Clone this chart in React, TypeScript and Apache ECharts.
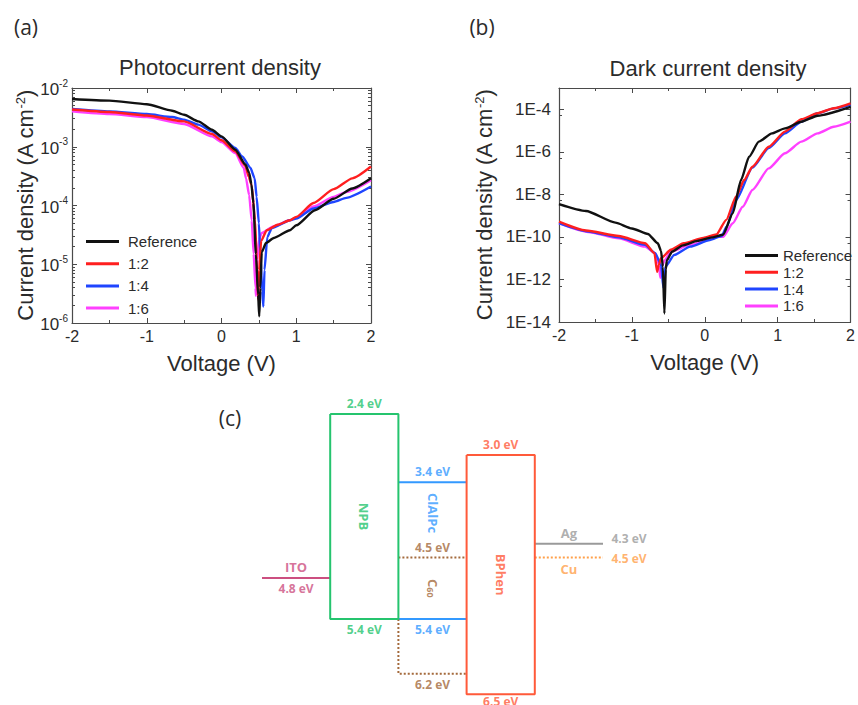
import React, { useEffect, useRef } from 'react';
import * as echarts from 'echarts';

// ---------- data ----------
const SERIES_NAMES = ['Reference', '1:2', '1:4', '1:6'];
const SERIES_COLORS = ['#111111', '#ff1f1f', '#1f45ff', '#ff40ff'];

// (a) photocurrent density, [V, A cm^-2]
const photoReference: [number, number][] = [
  [-2, 6.5e-3], [-1.5, 6.1e-3], [-1, 5.3e-3], [-0.66, 4.1e-3], [-0.5, 3.5e-3], [-0.31, 2.7e-3],
  [-0.127, 1.95e-3], [0, 1.5e-3], [0.185, 8.9e-4], [0.32, 5.0e-4], [0.37, 3.6e-4], [0.4, 2.3e-4],
  [0.426, 1.1e-4], [0.46, 1.5e-5], [0.49, 3e-6], [0.505, 1.3e-6], [0.52, 4e-6], [0.538, 1.6e-5],
  [0.595, 2.3e-5], [0.7, 2.8e-5], [0.916, 3.8e-5], [1.0, 4.6e-5], [1.25, 8.3e-5], [1.5, 1.3e-4],
  [1.75, 1.95e-4], [2, 2.9e-4],
];
const photo12: [number, number][] = [
  [-2, 4.3e-3], [-1.5, 3.9e-3], [-1, 3.4e-3], [-0.5, 2.7e-3], [-0.127, 1.65e-3], [0, 1.29e-3],
  [0.185, 8.3e-4], [0.32, 4.7e-4], [0.363, 3.1e-4], [0.404, 2.2e-4], [0.449, 5.6e-5], [0.47, 1.2e-5],
  [0.49, 2.5e-6], [0.505, 8e-6], [0.53, 2.5e-5], [0.605, 3.8e-5], [0.75, 4.7e-5], [0.916, 5.6e-5],
  [1.0, 6.4e-5], [1.23, 1.1e-4], [1.5, 1.9e-4], [1.75, 2.9e-4], [2, 4.6e-4],
];
const photo14: [number, number][] = [
  [-2, 4.4e-3], [-1.5, 4.0e-3], [-1, 3.6e-3], [-0.66, 3.2e-3], [-0.5, 2.9e-3], [-0.31, 2.38e-3],
  [-0.127, 1.83e-3], [0, 1.45e-3], [0.185, 9.5e-4], [0.274, 6.9e-4], [0.386, 4.4e-4], [0.444, 2.9e-4],
  [0.47, 1.4e-4], [0.5, 5e-5], [0.52, 1.5e-5], [0.545, 3.5e-6], [0.56, 1.9e-6], [0.575, 8e-6],
  [0.613, 2.9e-5], [0.671, 4.1e-5], [0.916, 5.6e-5], [1.0, 6.0e-5], [1.23, 8.9e-5], [1.5, 1.15e-4],
  [1.67, 1.35e-4], [2, 2.1e-4],
];
const photo16: [number, number][] = [
  [-2, 4.0e-3], [-1.5, 3.6e-3], [-1, 3.2e-3], [-0.5, 2.44e-3], [-0.127, 1.5e-3], [0, 1.2e-3],
  [0.185, 7.8e-4], [0.297, 4.4e-4], [0.328, 2.9e-4], [0.37, 1.5e-4], [0.404, 5.6e-5], [0.43, 1.5e-5],
  [0.455, 4e-6], [0.462, 2.9e-6], [0.48, 1.2e-5], [0.5, 2.6e-5], [0.538, 3.4e-5], [0.693, 4.4e-5],
  [0.916, 5.6e-5], [1.0, 6.2e-5], [1.23, 9.6e-5], [1.5, 1.4e-4], [1.67, 1.7e-4], [2, 2.7e-4],
];

// (b) dark current density, [V, A cm^-2]
const darkReference: [number, number][] = [
  [-2, 3.5e-9], [-1.63, 1.66e-9], [-1.226, 4.7e-10], [-1.0, 2.5e-10], [-0.78, 1.38e-10], [-0.644, 5e-11],
  [-0.6, 2.2e-11], [-0.575, 4e-12], [-0.554, 2.5e-14], [-0.535, 3e-12], [-0.52, 8e-12], [-0.45, 2.0e-11],
  [-0.3, 4.0e-11], [-0.1, 6.5e-11], [0.1, 9.5e-11], [0.25, 1.26e-10], [0.385, 1.3e-9], [0.497, 4.7e-8],
  [0.608, 5.9e-7], [0.742, 3.0e-6], [0.922, 7.4e-6], [1.1, 1.26e-5], [1.325, 2.6e-5], [1.548, 5.0e-5],
  [2, 1.3e-4],
];
const dark12: [number, number][] = [
  [-2, 5.2e-10], [-1.63, 2.0e-10], [-1.18, 1.1e-10], [-0.82, 5.0e-11], [-0.69, 1.7e-11], [-0.654, 2.3e-12],
  [-0.63, 5e-12], [-0.6, 1.0e-11], [-0.466, 2.5e-11], [-0.29, 5.0e-11], [-0.02, 8.9e-11], [0.16, 1.3e-10],
  [0.295, 6.3e-10], [0.43, 7.9e-9], [0.54, 4.7e-8], [0.654, 2.0e-7], [0.877, 1.74e-6], [1.1, 8.9e-6],
  [1.325, 3.4e-5], [1.548, 6.5e-5], [1.77, 1.12e-4], [2, 1.9e-4],
];
const dark14: [number, number][] = [
  [-2, 4.4e-10], [-1.6, 1.8e-10], [-1.18, 9.5e-11], [-0.82, 4.2e-11], [-0.68, 1.7e-11], [-0.6, 5e-12],
  [-0.568, 4e-13], [-0.54, 4e-12], [-0.42, 1.4e-11], [-0.2, 3.5e-11], [0.07, 7.2e-11], [0.23, 1.1e-10],
  [0.3, 3e-10], [0.43, 5.4e-9], [0.654, 1.8e-7], [0.877, 1.5e-6], [1.1, 7.4e-6], [1.325, 2.6e-5],
  [1.548, 6.5e-5], [1.77, 1.1e-4], [2, 1.6e-4],
];
const dark16: [number, number][] = [
  [-2, 4.4e-10], [-1.6, 1.7e-10], [-1.18, 8.5e-11], [-0.82, 3.5e-11], [-0.68, 1.7e-11], [-0.63, 5e-12],
  [-0.61, 1.2e-12], [-0.59, 4e-12], [-0.55, 8e-12], [-0.47, 2.0e-11], [-0.2, 4.2e-11], [0.16, 1.0e-10],
  [0.25, 1.0e-10], [0.385, 4.4e-10], [0.52, 2.6e-9], [0.654, 1.6e-8], [0.877, 1.66e-7], [1.1, 8.5e-7],
  [1.325, 3.0e-6], [1.548, 7.4e-6], [1.77, 1.5e-5], [2, 2.6e-5],
];

const PHOTO = [photoReference, photo12, photo14, photo16];
const DARK = [darkReference, dark12, dark14, dark16];

// (c) energy levels, eV  [LUMO, HOMO]
const NPB_LEVELS = [2.4, 5.4];
const CLALPC_LEVELS = [3.4, 5.4];
const C60_LEVELS = [4.5, 6.2];
const BPHEN_LEVELS = [3.0, 6.5];
const ITO_LEVEL = [4.8];
const AG_LEVEL = [4.3];
const CU_LEVEL = [4.5];

// ---------- styles ----------
const FONT = "'Liberation Sans', Arial, sans-serif";
const LABEL_FONT = "'Open Sans', 'Noto Sans', sans-serif";
const AXIS_COLOR = '#4a4a4a';
const TEXT_COLOR = '#2b2b2b';
const C_GREEN = '#25c46e';
const C_BLUE = '#3399ff';
const C_BROWN = '#a46a3c';
const C_RED = '#ff5a3a';
const C_PINK = '#cc4f80';
const C_GRAY = '#9a9a9a';
const C_ORANGE = '#ffa04a';

const eV = (v: number) => `${v.toFixed(1)} eV`;

function xAxisFor(grid: number, position: 'bottom' | 'top', withLabels: boolean) {
  return {
    type: 'value', gridIndex: grid, position, min: -2, max: 2, interval: 1,
    axisLine: { show: true, onZero: false, lineStyle: { color: AXIS_COLOR, width: 1.2 } },
    axisTick: { show: true, inside: true, length: 5, lineStyle: { color: AXIS_COLOR } },
    minorTick: { show: true, splitNumber: 2, length: 3, lineStyle: { color: AXIS_COLOR } },
    axisLabel: { show: withLabels, fontSize: 16, color: TEXT_COLOR, fontFamily: FONT, margin: 5 },
    splitLine: { show: false },
    name: withLabels ? 'Voltage (V)' : '',
    nameLocation: 'middle', nameGap: 29,
    nameTextStyle: { fontSize: 22, color: TEXT_COLOR, fontFamily: FONT },
  };
}

const yNameRich = {
  sup: { fontSize: 13, fontFamily: FONT, color: TEXT_COLOR, verticalAlign: 'top', lineHeight: 13 },
};

function yAxisFor(grid: number, position: 'left' | 'right', withLabels: boolean, panel: 'a' | 'b') {
  const base: any = {
    type: 'log', gridIndex: grid, position,
    axisLine: { show: true, onZero: false, lineStyle: { color: AXIS_COLOR, width: 1.2 } },
    axisTick: { show: true, inside: true, length: 5, lineStyle: { color: AXIS_COLOR } },
    minorTick: { show: true, splitNumber: panel === 'a' ? 9 : 2, length: 3, lineStyle: { color: AXIS_COLOR } },
    splitLine: { show: false },
  };
  if (panel === 'a') {
    base.logBase = 10; base.min = 1e-6; base.max = 1e-2;
    base.axisLabel = {
      show: withLabels, fontSize: 16, color: TEXT_COLOR, fontFamily: FONT, margin: 4,
      formatter: (v: number) => `{b|10}{s|${Math.round(Math.log10(v))}}`,
      rich: {
        b: { fontSize: 17, fontFamily: FONT, color: TEXT_COLOR, verticalAlign: 'bottom', lineHeight: 20 },
        s: { fontSize: 10, fontFamily: FONT, color: TEXT_COLOR, verticalAlign: 'top', lineHeight: 10 },
      },
    };
  } else {
    base.logBase = 100; base.min = 1e-14; base.max = 1e-3;
    base.axisLabel = {
      show: withLabels, fontSize: 17, color: TEXT_COLOR, fontFamily: FONT, margin: 8, showMaxLabel: false,
      formatter: (v: number) => `1E${Math.round(Math.log10(v))}`,
    };
  }
  if (withLabels) {
    base.name = 'Current density (A cm{sup|-2})';
    base.nameLocation = 'middle';
    base.nameGap = panel === 'a' ? 35 : 64;
    base.nameTextStyle = { fontSize: 22, color: TEXT_COLOR, fontFamily: FONT, rich: yNameRich };
  }
  return base;
}

function box(x0: number, x1: number, levels: number[]) {
  return [[x0, levels[0]], [x1, levels[0]], [x1, levels[1]], [x0, levels[1]], [x0, levels[0]]];
}

function levelLine(data: number[][], color: string, dotted = false, width = 2) {
  return {
    type: 'line', xAxisIndex: 4, yAxisIndex: 4, data, symbol: 'none', silent: true, clip: false,
    lineStyle: { color, width, type: dotted ? [2, 2] : 'solid' },
  };
}

function lbl(x: number, e: number, text: string, color: string, position: string, extra: any = {}) {
  return {
    value: [x, e],
    label: {
      show: true, formatter: text, color, position, distance: 4,
      fontFamily: LABEL_FONT, fontWeight: 'bold', fontSize: 12, ...extra,
    },
  };
}

function buildOption(): any {
  const lineSeries = (datasets: [number, number][][], xi: number, yi: number) =>
    datasets.map((d, i) => ({
      type: 'line', name: SERIES_NAMES[i], xAxisIndex: xi, yAxisIndex: yi, data: d,
      symbol: 'none', smooth: 0.2, smoothMonotone: 'x', silent: true,
      lineStyle: { width: 2.4, color: SERIES_COLORS[i] }, itemStyle: { color: SERIES_COLORS[i] },
      z: 10 - i,
    }));

  const legendCommon = {
    orient: 'vertical', icon: 'rect', itemWidth: 33, itemHeight: 3, data: SERIES_NAMES, selectedMode: false,
    padding: 0,
    textStyle: { fontSize: 15, lineHeight: 14, color: TEXT_COLOR, fontFamily: FONT },
  };

  const rotated = { rotate: -90, fontSize: 13 };
  const labels = [
    lbl(1.5, NPB_LEVELS[0], eV(NPB_LEVELS[0]), C_GREEN, 'top'),
    lbl(1.5, NPB_LEVELS[1], eV(NPB_LEVELS[1]), C_GREEN, 'bottom'),
    lbl(1.5, (NPB_LEVELS[0] + NPB_LEVELS[1]) / 2, 'NPB', C_GREEN, 'inside', rotated),
    lbl(2.5, CLALPC_LEVELS[0], eV(CLALPC_LEVELS[0]), C_BLUE, 'top'),
    lbl(2.5, CLALPC_LEVELS[1], eV(CLALPC_LEVELS[1]), C_BLUE, 'bottom'),
    lbl(2.5, (CLALPC_LEVELS[0] + C60_LEVELS[0]) / 2 - 0.1, 'ClAlPc', C_BLUE, 'inside', rotated),
    lbl(2.5, C60_LEVELS[0], eV(C60_LEVELS[0]), C_BROWN, 'top'),
    lbl(2.5, C60_LEVELS[1], eV(C60_LEVELS[1]), C_BROWN, 'bottom'),
    lbl(2.5, (C60_LEVELS[0] + CLALPC_LEVELS[1]) / 2, 'C{sub|60}', C_BROWN, 'inside', {
      ...rotated,
      rich: { sub: { fontSize: 9, fontFamily: LABEL_FONT, fontWeight: 'bold', color: C_BROWN, verticalAlign: 'bottom' } },
    }),
    lbl(3.5, BPHEN_LEVELS[0], eV(BPHEN_LEVELS[0]), C_RED, 'top'),
    lbl(3.5, BPHEN_LEVELS[1], eV(BPHEN_LEVELS[1]), C_RED, 'bottom', { distance: 1 }),
    lbl(3.5, (BPHEN_LEVELS[0] + BPHEN_LEVELS[1]) / 2, 'BPhen', C_RED, 'inside', rotated),
    lbl(0.5, ITO_LEVEL[0], 'ITO', C_PINK, 'top', { fontSize: 13 }),
    lbl(0.5, ITO_LEVEL[0], eV(ITO_LEVEL[0]), C_PINK, 'bottom'),
    lbl(4.5, AG_LEVEL[0], 'Ag', C_GRAY, 'top', { fontSize: 13 }),
    lbl(5, AG_LEVEL[0], eV(AG_LEVEL[0]), C_GRAY, 'right', { distance: 8, offset: [0, -5] }),
    lbl(4.5, CU_LEVEL[0], 'Cu', C_ORANGE, 'bottom', { fontSize: 13 }),
    lbl(5, CU_LEVEL[0], eV(CU_LEVEL[0]), C_ORANGE, 'right', { distance: 8, offset: [0, 1] }),
  ];

  const textEl = (x: number, y: number, text: string, fontSize: number, family = FONT) => ({
    type: 'text', x, y, silent: true,
    style: { text, fontSize, fontFamily: family, fill: TEXT_COLOR, align: 'center', verticalAlign: 'middle' },
  });

  return {
    animation: false,
    backgroundColor: '#ffffff',
    grid: [
      { left: 72, top: 88, width: 299, height: 235 },
      { left: 559, top: 88, width: 298, height: 234 },
      { left: 262, top: 386.7, width: 341, height: 314.3 },
    ],
    xAxis: [
      xAxisFor(0, 'bottom', true),
      xAxisFor(0, 'top', false),
      xAxisFor(1, 'bottom', true),
      xAxisFor(1, 'top', false),
      { type: 'value', gridIndex: 2, min: 0, max: 5, show: false },
    ],
    yAxis: [
      yAxisFor(0, 'left', true, 'a'),
      yAxisFor(0, 'right', false, 'a'),
      yAxisFor(1, 'left', true, 'b'),
      yAxisFor(1, 'right', false, 'b'),
      { type: 'value', gridIndex: 2, min: 2.0, max: 6.6, inverse: true, show: false },
    ],
    legend: [
      { ...legendCommon, left: 86, top: 234, itemGap: 7.2, textStyle: { ...legendCommon.textStyle, padding: [0, 0, 0, 4] } },
      { ...legendCommon, left: 745, top: 248, itemGap: 1.8 },
    ],
    graphic: [
      textEl(26, 27, '(a)', 21, "'Open Sans', sans-serif"),
      textEl(482, 27, '(b)', 21, "'Open Sans', sans-serif"),
      textEl(230, 418, '(c)', 21, "'Open Sans', sans-serif"),
      textEl(220, 67, 'Photocurrent density', 22),
      textEl(708, 68, 'Dark current density', 22),
    ],
    series: [
      ...lineSeries(PHOTO, 0, 0),
      ...lineSeries(DARK, 2, 2),
      levelLine([[2, CLALPC_LEVELS[0]], [3, CLALPC_LEVELS[0]]], C_BLUE),
      levelLine([[2, CLALPC_LEVELS[1]], [3, CLALPC_LEVELS[1]]], C_BLUE),
      levelLine([[2, C60_LEVELS[0]], [3, C60_LEVELS[0]]], C_BROWN, true),
      levelLine([[2, CLALPC_LEVELS[1]], [2, C60_LEVELS[1]], [3, C60_LEVELS[1]]], C_BROWN, true),
      levelLine([[0, ITO_LEVEL[0]], [1, ITO_LEVEL[0]]], C_PINK),
      levelLine([[4, AG_LEVEL[0]], [5, AG_LEVEL[0]]], C_GRAY),
      levelLine([[4, CU_LEVEL[0]], [5, CU_LEVEL[0]]], C_ORANGE, true),
      levelLine(box(1, 2, NPB_LEVELS), C_GREEN),
      levelLine(box(3, 4, BPHEN_LEVELS), C_RED),
      {
        type: 'scatter', xAxisIndex: 4, yAxisIndex: 4, symbolSize: 1, silent: true, clip: false,
        itemStyle: { color: 'transparent' }, data: labels, z: 20,
      },
    ],
  };
}

export default function App() {
  const ref = useRef<HTMLDivElement>(null);
  useEffect(() => {
    if (!ref.current) return;
    const chart = echarts.init(ref.current, undefined, { renderer: 'svg' });
    chart.setOption(buildOption());
    return () => chart.dispose();
  }, []);
  return (
    <div
      ref={ref}
      style={{ position: 'absolute', left: 0, top: 0, width: 858, height: 705, background: '#fff' }}
    />
  );
}
